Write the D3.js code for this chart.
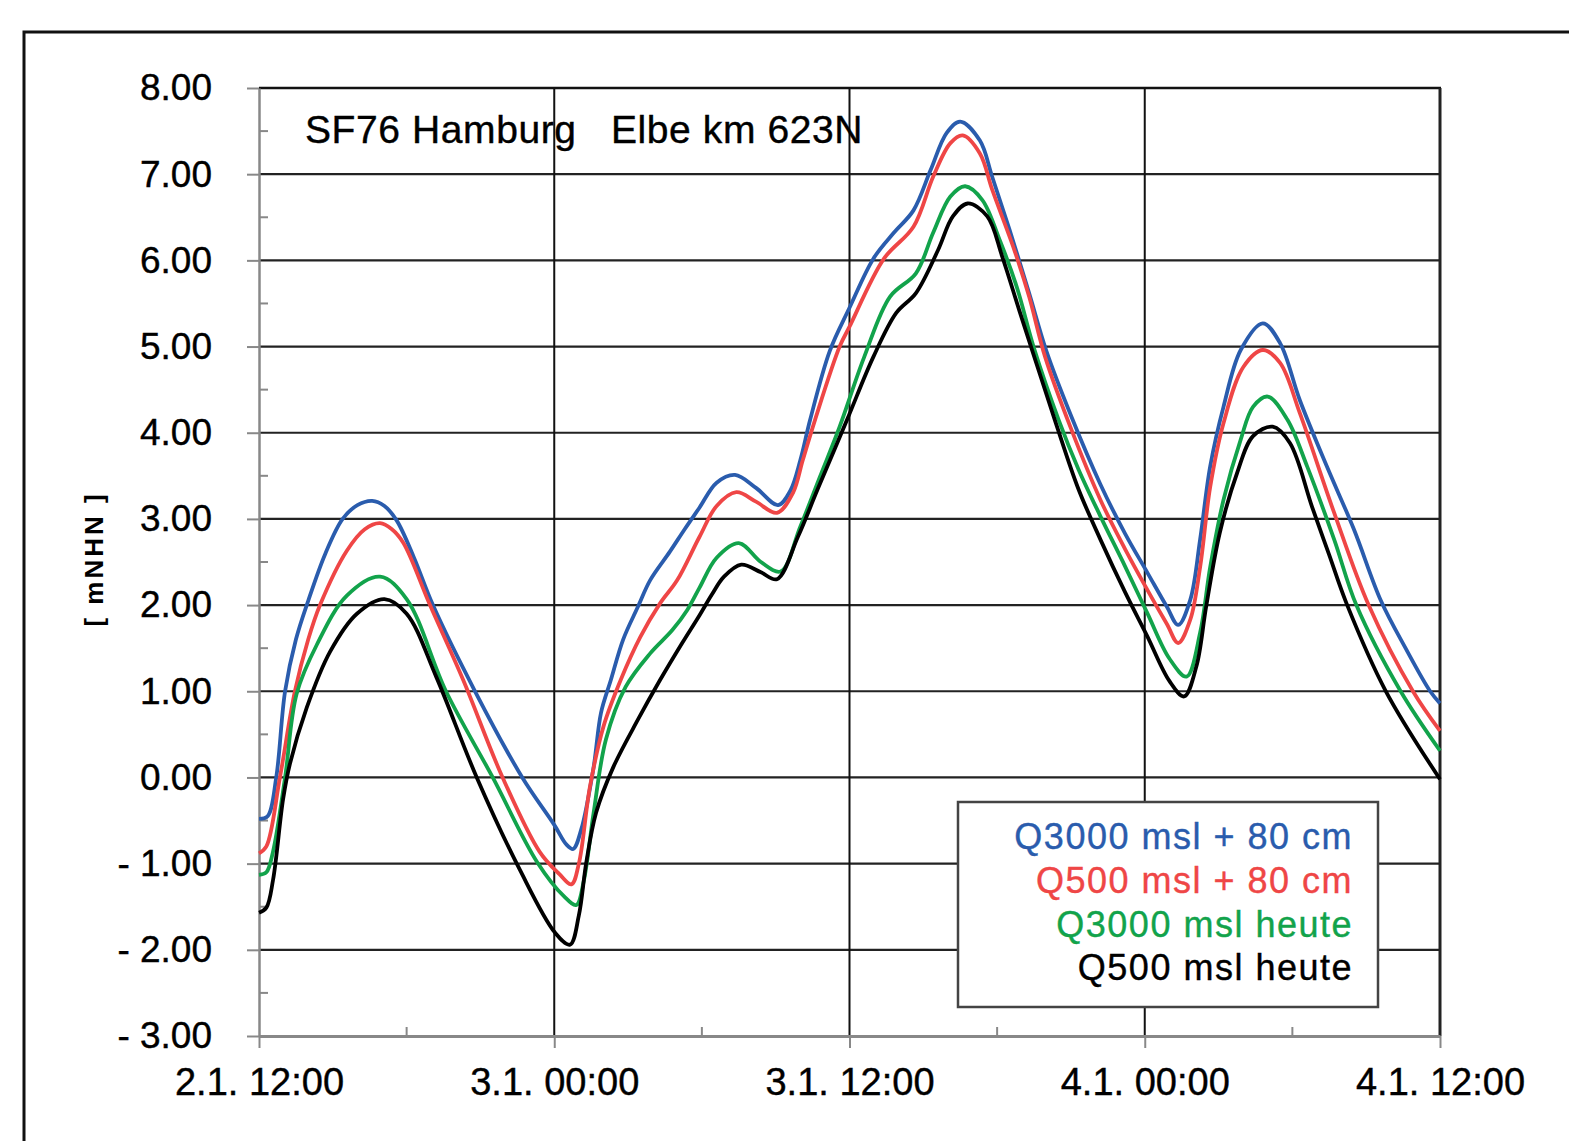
<!DOCTYPE html>
<html>
<head>
<meta charset="utf-8">
<script src="https://cdn.jsdelivr.net/npm/d3@7"></script>
<style>
  html, body { margin: 0; padding: 0; background: #fff; }
  svg { display: block; }
  text { font-family: "Liberation Sans", Arial, sans-serif; }
</style>
</head>
<body>
<svg id="chart" width="1569" height="1141"></svg>
<script>
// Water levels at SF76 Hamburg (Elbe km 623N), hours after 2.1. 12:00 -> m NHN
const xTickHours = [0, 12, 24, 36, 48];
const xTickLabels = ["2.1. 12:00", "3.1. 00:00", "3.1. 12:00", "4.1. 00:00", "4.1. 12:00"];
const yTicks = [-3, -2, -1, 0, 1, 2, 3, 4, 5, 6, 7, 8];

const seriesNames = ["Q3000 msl + 80 cm", "Q500 msl + 80 cm", "Q3000 msl heute", "Q500 msl heute"];
const seriesColors = ["#2a5cad", "#ef4646", "#12a34b", "#000000"];

const q3000Plus80 = [
  [0,-0.48],[0.35,-0.45],[0.7,0.0],[1.06,1.0],[1.5,1.6],[2.0,2.05],[2.7,2.6],[3.4,3.0],[4.0,3.16],[4.6,3.21],
  [5.1,3.15],[5.6,2.98],[6.3,2.55],[7.07,2.0],[8.78,1.0],[10.7,0.0],[12.0,-0.55],[12.5,-0.78],[12.77,-0.83],
  [13.1,-0.6],[13.6,0.12],[13.9,0.75],[14.3,1.13],[14.8,1.6],[15.4,1.98],[15.9,2.29],[16.7,2.62],[17.3,2.88],
  [17.9,3.13],[18.6,3.42],[19.35,3.51],[20.2,3.36],[21.1,3.16],[21.6,3.33],[22.0,3.68],[22.4,4.15],[23.2,4.95],
  [24.0,5.45],[24.97,6.02],[25.8,6.32],[26.6,6.58],[27.3,7.05],[27.95,7.48],[28.5,7.61],[29.3,7.39],[29.8,6.97],
  [30.5,6.36],[31.3,5.62],[32.0,4.95],[33.0,4.2],[34.2,3.4],[35.2,2.83],[36.1,2.38],[36.9,1.98],[37.36,1.77],
  [37.85,2.06],[38.25,2.76],[38.66,3.61],[39.2,4.30],[39.9,4.96],[40.8,5.27],[41.5,5.04],[42.3,4.38],[43.4,3.61],
  [44.5,2.88],[45.6,2.05],[46.6,1.5],[47.6,1.0],[48,0.86]
];

const q500Plus80 = [
  [0,-0.88],[0.3,-0.80],[0.85,0.0],[1.46,1.0],[2.0,1.6],[2.48,2.0],[3.57,2.63],[4.3,2.88],[4.92,2.95],[5.4,2.88],
  [5.87,2.72],[6.95,2.0],[8.3,1.13],[9.9,0.0],[11.4,-0.86],[12.2,-1.12],[12.7,-1.24],[13.0,-1.0],[13.45,-0.11],
  [14.0,0.59],[14.7,1.13],[15.5,1.63],[16.3,2.02],[17.0,2.29],[17.9,2.79],[18.6,3.15],[19.4,3.31],[20.2,3.2],
  [21.05,3.07],[21.7,3.30],[22.1,3.68],[22.6,4.15],[23.6,5.0],[24.0,5.23],[25.4,6.02],[26.6,6.39],[27.4,6.97],
  [28.1,7.36],[28.6,7.45],[29.3,7.24],[29.8,6.82],[30.7,6.12],[31.3,5.58],[31.95,4.88],[33.0,4.05],[34.2,3.22],
  [35.2,2.65],[36.1,2.18],[36.9,1.78],[37.36,1.56],[37.85,1.83],[38.25,2.44],[38.66,3.37],[39.2,4.11],[40.0,4.76],
  [40.8,4.96],[41.5,4.81],[42.3,4.23],[43.7,3.07],[45.1,2.0],[46.9,1.0],[48,0.54]
];

const q3000Today = [
  [0,-1.13],[0.3,-1.1],[0.57,-0.86],[1.06,0.0],[1.53,0.97],[2.35,1.54],[3.57,2.11],[4.92,2.33],[6.0,2.07],
  [7.6,1.0],[9.5,0.0],[11.3,-0.98],[12.4,-1.38],[12.9,-1.48],[13.2,-1.2],[13.6,-0.41],[14.1,0.44],[14.9,1.05],
  [15.9,1.44],[16.8,1.71],[17.4,1.94],[17.9,2.2],[18.6,2.55],[19.5,2.72],[20.4,2.5],[21.2,2.39],[22.0,2.91],
  [22.8,3.49],[23.6,4.07],[24.6,4.88],[25.65,5.58],[26.7,5.85],[27.4,6.32],[28.1,6.74],[28.7,6.86],[29.4,6.70],
  [30.1,6.24],[30.8,5.69],[31.5,4.98],[32.5,4.15],[33.3,3.58],[34.2,3.03],[35.2,2.45],[36.1,1.91],[37.0,1.38],
  [37.7,1.17],[38.25,1.68],[38.66,2.44],[39.2,3.22],[39.9,3.92],[40.4,4.30],[41.0,4.42],[41.8,4.15],[42.6,3.61],
  [43.7,2.76],[44.6,2.0],[46.4,1.0],[48,0.31]
];

const q500Today = [
  [0,-1.57],[0.3,-1.51],[0.57,-1.19],[0.98,-0.25],[1.25,0.15],[1.94,0.81],[2.89,1.46],[3.98,1.90],[5.1,2.07],
  [6.0,1.90],[7.2,1.17],[8.85,0.0],[10.6,-1.07],[12.03,-1.80],[12.64,-1.94],[13.0,-1.6],[13.3,-0.99],[13.7,-0.41],
  [14.4,0.12],[15.4,0.67],[16.3,1.13],[17.2,1.56],[17.9,1.88],[18.4,2.12],[18.9,2.33],[19.6,2.47],[20.4,2.38],
  [21.05,2.30],[21.9,2.79],[22.7,3.34],[23.9,4.15],[24.97,4.88],[25.9,5.39],[26.7,5.62],[27.6,6.12],[28.2,6.51],
  [28.8,6.66],[29.6,6.51],[30.2,6.05],[30.9,5.42],[31.6,4.8],[32.4,4.1],[33.3,3.35],[34.2,2.76],[35.2,2.15],
  [36.1,1.64],[37.0,1.12],[37.6,0.94],[38.1,1.29],[38.5,1.99],[39.05,2.84],[39.75,3.53],[40.4,3.96],[41.2,4.07],
  [41.9,3.88],[42.8,3.14],[43.5,2.58],[44.2,2.02],[45.8,1.0],[48,-0.02]
];

const seriesData = [q3000Plus80, q500Plus80, q3000Today, q500Today];

const svg = d3.select("#chart");
const plotLeft = 259, plotRight = 1440, plotTop = 88, plotBottom = 1036;
const fontStack = '"Liberation Sans", Arial, sans-serif';

const x = d3.scaleLinear().domain([0, 48]).range([plotLeft, plotRight]);
const y = d3.scaleLinear().domain([-3, 8]).range([plotBottom, plotTop]);

// outer frame
svg.append("rect")
  .attr("x", 24).attr("y", 32).attr("width", 1700).attr("height", 1300)
  .attr("fill", "none").attr("stroke", "#111").attr("stroke-width", 3);

// horizontal grid
svg.append("g").selectAll("line")
  .data(yTicks.filter(v => v > -3 && v < 8))
  .join("line")
  .attr("x1", plotLeft).attr("x2", plotRight)
  .attr("y1", d => y(d)).attr("y2", d => y(d))
  .attr("stroke", "#222").attr("stroke-width", 2.2);

// vertical grid
svg.append("g").selectAll("line")
  .data(xTickHours.filter(h => h > 0 && h < 48))
  .join("line")
  .attr("x1", d => x(d)).attr("x2", d => x(d))
  .attr("y1", plotTop).attr("y2", plotBottom)
  .attr("stroke", "#111").attr("stroke-width", 2);

// top and right border
svg.append("line").attr("x1", plotLeft).attr("x2", plotRight + 1).attr("y1", plotTop).attr("y2", plotTop)
  .attr("stroke", "#111").attr("stroke-width", 2.5);
svg.append("line").attr("x1", plotRight).attr("x2", plotRight).attr("y1", plotTop).attr("y2", plotBottom)
  .attr("stroke", "#222").attr("stroke-width", 3);

// minor ticks
const minorY = d3.range(-2.5, 8, 1);
svg.append("g").selectAll("line").data(minorY).join("line")
  .attr("x1", plotLeft).attr("x2", plotLeft + 9)
  .attr("y1", d => y(d)).attr("y2", d => y(d))
  .attr("stroke", "#888").attr("stroke-width", 2);
const minorX = [6, 18, 30, 42];
svg.append("g").selectAll("line").data(minorX).join("line")
  .attr("x1", d => x(d)).attr("x2", d => x(d))
  .attr("y1", plotBottom).attr("y2", plotBottom - 9)
  .attr("stroke", "#888").attr("stroke-width", 2);

// y axis
const yAxis = d3.axisLeft(y)
  .tickValues(yTicks)
  .tickSize(12).tickSizeOuter(0).tickPadding(35)
  .tickFormat(v => v < 0 ? "- " + Math.abs(v).toFixed(2) : v.toFixed(2));
const gy = svg.append("g").attr("transform", `translate(${plotLeft},0)`).call(yAxis);
gy.select(".domain").attr("stroke", "#888").attr("stroke-width", 2.5);
gy.selectAll(".tick line").attr("stroke", "#888").attr("stroke-width", 2);
gy.selectAll(".tick text")
  .attr("font-size", 37).attr("fill", "#000")
  .attr("stroke", "#000").attr("stroke-width", 0.4)
  .style("font-family", fontStack);

// x axis
const xAxis = d3.axisBottom(x)
  .tickValues(xTickHours)
  .tickSize(12).tickSizeOuter(0).tickPadding(20)
  .tickFormat((d, i) => xTickLabels[i]);
const gx = svg.append("g").attr("transform", `translate(0,${plotBottom})`).call(xAxis);
gx.select(".domain").attr("stroke", "#888").attr("stroke-width", 3);
gx.selectAll(".tick line").attr("stroke", "#888").attr("stroke-width", 2);
gx.selectAll(".tick text")
  .attr("font-size", 38).attr("fill", "#000")
  .attr("stroke", "#000").attr("stroke-width", 0.4)
  .style("font-family", fontStack);

// y axis title
svg.append("text")
  .attr("transform", "translate(103,559) rotate(-90)")
  .attr("text-anchor", "middle")
  .attr("font-size", 26).attr("font-weight", "bold")
  .attr("letter-spacing", 3)
  .text("[ mNHN ]");

// station title
svg.append("text")
  .attr("x", 305).attr("y", 143)
  .attr("font-size", 39)
  .attr("letter-spacing", 0.6)
  .attr("stroke", "#000").attr("stroke-width", 0.4)
  .attr("xml:space", "preserve")
  .style("white-space", "pre")
  .text("SF76 Hamburg   Elbe km 623N");

// water level lines
const line = d3.line()
  .x(d => x(d[0]))
  .y(d => y(d[1]))
  .curve(d3.curveCatmullRom.alpha(0.5));

svg.append("g").selectAll("path")
  .data(seriesData)
  .join("path")
  .attr("d", line)
  .attr("fill", "none")
  .attr("stroke", (d, i) => seriesColors[i])
  .attr("stroke-width", 3.8)
  .attr("stroke-linejoin", "round");

// legend
const legend = svg.append("g");
legend.append("rect")
  .attr("x", 958).attr("y", 802).attr("width", 420).attr("height", 205)
  .attr("fill", "#fff").attr("stroke", "#444").attr("stroke-width", 2.5);
const legendBaselines = [849, 893, 937, 980];
legend.selectAll("text").data(seriesNames).join("text")
  .attr("x", 1353)
  .attr("y", (d, i) => legendBaselines[i])
  .attr("text-anchor", "end")
  .attr("font-size", 36)
  .attr("letter-spacing", 1.5)
  .attr("fill", (d, i) => seriesColors[i])
  .attr("stroke", (d, i) => seriesColors[i]).attr("stroke-width", 0.4)
  .text(d => d);
</script>
</body>
</html>
